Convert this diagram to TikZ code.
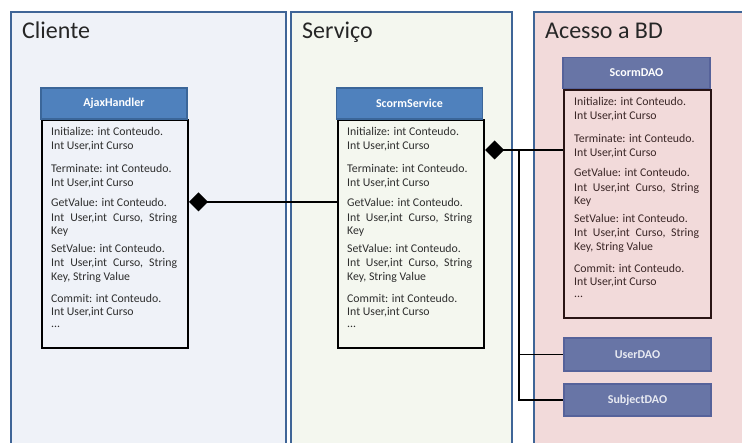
\documentclass[tikz,border=0pt]{standalone}
\usepackage{fontspec}
\setmainfont{Carlito}
\usetikzlibrary{arrows.meta,calc}
\definecolor{panelborder}{HTML}{3F6597}
\definecolor{clifill}{HTML}{EFF2F8}
\definecolor{svcfill}{HTML}{F4F7EF}
\definecolor{bdfill}{HTML}{F2DADA}
\definecolor{hdrblue}{HTML}{4F81BD}
\definecolor{hdrblueborder}{HTML}{3B6699}
\definecolor{hdrdao}{HTML}{6875A6}
\definecolor{hdrdaoborder}{HTML}{56629A}
\definecolor{txtgray}{HTML}{2E2E2E}
\definecolor{txtdao}{HTML}{3A2626}
\definecolor{daobody}{HTML}{2A1414}
\tikzset{
  panel/.style={draw=panelborder, line width=2.5pt},
  ptitle/.style={anchor=base west, inner sep=0pt, font=\fontsize{24}{28}\selectfont, text=black!85},
  ln/.style={anchor=west, inner sep=0pt, font=\fontsize{11.8}{13}\selectfont, text=txtgray},
  bodybox/.style={draw=black, line width=2pt, anchor=north west, minimum width=146pt, inner sep=0pt},
  hdrbox/.style={draw=hdrblueborder, fill=hdrblue, line width=1.5pt, text=white, minimum width=146pt, minimum height=31pt, inner sep=0pt, font=\bfseries\fontsize{12}{14}\selectfont},
  daohdr/.style={hdrbox, draw=hdrdaoborder, fill=hdrdao},
  conn/.style={draw=black, line width=1.5pt},
  comp/.style={conn, {Diamond[length=19pt 0 0,width=19pt 0 0]}-},
}
\newcommand\clsbody[4]{%
  \node[ln] (#1-1) at (#2,#3+12) {Initialize: int Conteudo.};
  \node[ln] (#1-2) at (#2,#3+27) {Int User,int Curso};
  \node[ln] (#1-3) at (#2,#3+49) {Terminate: int Conteudo.};
  \node[ln] (#1-4) at (#2,#3+64) {Int User,int Curso};
  \node[ln] (#1-5) at (#2,#3+83) {GetValue: int Conteudo.};
  \node[ln] (#1-6) at (#2,#3+99) {\hbox to #4pt{Int\hfill User,int\hfill Curso,\hfill String}};
  \node[ln] (#1-7) at (#2,#3+113) {Key};
  \node[ln] (#1-8) at (#2,#3+129) {SetValue: int Conteudo.};
  \node[ln] (#1-9) at (#2,#3+144) {\hbox to #4pt{Int\hfill User,int\hfill Curso,\hfill String}};
  \node[ln] (#1-10) at (#2,#3+158) {Key, String Value};
  \node[ln] (#1-11) at (#2,#3+179) {Commit: int Conteudo.};
  \node[ln] (#1-12) at (#2,#3+193) {Int User,int Curso};
  \node[ln] (#1-13) at (#2,#3+208) {...};
}
\begin{document}
\begin{tikzpicture}[x=1pt,y=-1pt]
\useasboundingbox (0,0) rectangle (742,443);
\clip (0,0) rectangle (742,443);
\fill[white] (0,0) rectangle (742,443);
% panels
\draw[panel, fill=clifill] (11,12) rectangle (286,470);
\draw[panel, fill=svcfill] (291,12) rectangle (512,470);
\draw[panel, fill=bdfill] (534,12) rectangle (760,470);
\node[ptitle] (tcli) at (22,39) {Cliente};
\node[ptitle] (tsvc) at (302,39) {Serviço};
\node[ptitle] (tbd) at (545,39) {Acesso a BD};
% AjaxHandler
\node[bodybox, minimum height=228pt] (ajaxbody) at (41,119) {};
\node[hdrbox] (ajaxhdr) at (114,103.5) {AjaxHandler};
\clsbody{aj}{51}{119}{126}
% ScormService
\node[bodybox, minimum height=228pt] (svcbody) at (337,119) {};
\node[hdrbox] (svchdr) at (409.5,103.5) {ScormService};
\clsbody{sv}{347}{119}{125}
% ScormDAO
\node[bodybox, draw=daobody, minimum width=147pt, minimum height=228pt] (daobody) at (563,89) {};
\node[daohdr, minimum width=147pt] (daohdr) at (636.5,73) {ScormDAO};
\begin{scope}[ln/.append style={text=txtdao}]
\clsbody{dao}{574}{89}{125}
\end{scope}
% UserDAO, SubjectDAO
\node[daohdr, minimum width=147pt, minimum height=33pt, text=white!85!hdrdao] (user) at (637.5,354.5) {UserDAO};
\node[daohdr, minimum width=147pt, minimum height=32pt, text=white!85!hdrdao] (subj) at (637.5,400) {SubjectDAO};
% connectors
\draw[comp] (ajaxbody.east |- aj-5.west) -- (svcbody.west |- aj-5.west);
\coordinate (cy) at ($(svcbody.north east)+(0,31)$);
\draw[comp] (cy) -- (daobody.west |- cy);
\coordinate (jx) at (519,0);
\coordinate (junc) at (jx |- cy);
\draw[conn] (junc) |- (subj.west);
\draw[conn] (junc |- user.west) -- (user.west);
\end{tikzpicture}
\end{document}
